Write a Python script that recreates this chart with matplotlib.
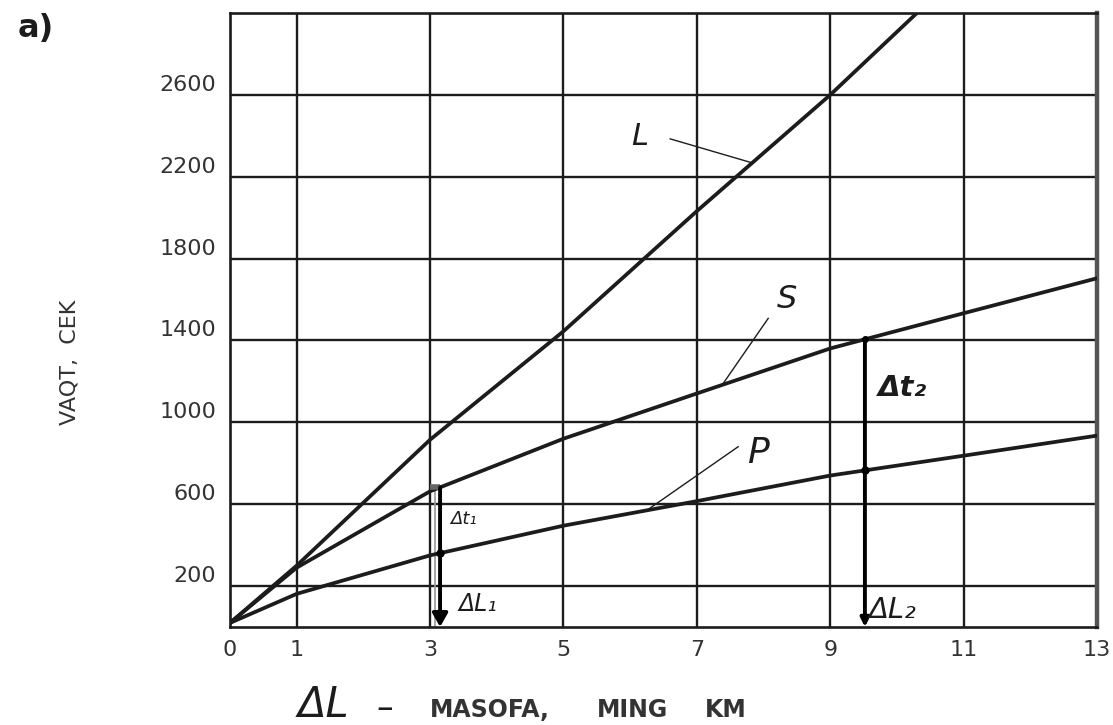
import numpy as np
import matplotlib
matplotlib.use("Agg")
import matplotlib.pyplot as plt

# Travel-time curves: distance (thousand km) vs time (s)
dist = [0, 1, 3, 5, 7, 9, 11, 13]
time_p = [20, 162, 350, 495, 615, 740, 837, 935]
time_s = [20, 290, 663, 920, 1141, 1361, 1533, 1704]
dist_l = [0, 1, 3, 5, 7, 9, 10.3]
time_l = [20, 300, 915, 1445, 2032, 2600, 3000]

x_ticks = [0, 1, 3, 5, 7, 9, 11, 13]
y_ticks = [200, 600, 1000, 1400, 1800, 2200, 2600]
y_tick_labels = ["200", "600", "1000", "1400", "1800", "2200", "2600"]

d1 = 3.15
d2 = 9.52

INK = "#1c1c1c"
GREY_TXT = "#333333"
plt.rcParams["font.family"] = ["DejaVu Sans"]

fig = plt.figure(figsize=(11.13, 7.25), dpi=100)
ax = fig.add_axes([230 / 1113, 1 - 627 / 725, 867 / 1113, 614 / 725])
ax.set_xlim(0, 13)
ax.set_ylim(0, 3000)

# grid
for v in x_ticks[1:-1]:
    ax.axvline(v, color=INK, lw=1.7, zorder=1)
for v in y_ticks:
    ax.axhline(v, color=INK, lw=1.7, zorder=1)
for sp in ax.spines.values():
    sp.set_linewidth(1.9)
    sp.set_color(INK)
ax.spines["right"].set_linewidth(3.2)
ax.spines["right"].set_color("#555555")

# curves
for xs, ys in ((dist, time_p), (dist, time_s), (dist_l, time_l)):
    ax.plot(xs, ys, color=INK, lw=2.7, solid_capstyle="round",
            solid_joinstyle="round", zorder=3)

# x ticks
ax.set_xticks(x_ticks)
ax.set_xticklabels([str(v) for v in x_ticks], fontsize=16, color=GREY_TXT)
ax.set_yticks([])
ax.tick_params(axis="x", length=0, pad=9)

# y tick labels sit just above their grid lines
for v, lab in zip(y_ticks, y_tick_labels):
    ax.annotate(lab, xy=(0, v), xycoords=ax.get_yaxis_transform(),
                xytext=(-14, 10), textcoords="offset pixels",
                ha="right", va="center", fontsize=16, color=GREY_TXT)

# S-P difference arrows
s1 = np.interp(d1, dist, time_s)
s2 = np.interp(d2, dist, time_s)
p1 = np.interp(d1, dist, time_p)
p2 = np.interp(d2, dist, time_p)

ax.plot([3.0, d1], [s1, s1], color="#666666", lw=4, zorder=4, solid_capstyle="butt")
ax.plot([3.07, 3.07], [0, s1], color="#9a9a9a", lw=1.2, zorder=2)
ax.annotate("", xy=(d1, 0), xytext=(d1, s1),
            arrowprops=dict(arrowstyle="-|>,head_length=0.8,head_width=0.45",
                            lw=2.8, color="black", shrinkA=0, shrinkB=0), zorder=5)
ax.annotate("", xy=(d2, 0), xytext=(d2, s2),
            arrowprops=dict(arrowstyle="-|>,head_length=0.5,head_width=0.25",
                            lw=2.8, color="black", shrinkA=0, shrinkB=0), zorder=5)
ax.plot([d1, d2], [p1, p2], "o", color="black", ms=5, zorder=6)
ax.plot([d2], [s2], "o", color="black", ms=4, zorder=6)

ax.text(3.30, 530, "Δt₁", fontsize=13, style="italic", ha="left", va="center",
        color=INK, zorder=7)
ax.text(3.42, 110, "ΔL₁", fontsize=17, style="italic", ha="left", va="center",
        color=INK, zorder=7)
ax.text(9.72, 1170, "Δt₂", fontsize=21, style="italic", fontweight="bold",
        ha="left", va="center", color=INK, zorder=7)
ax.text(9.58, 85, "ΔL₂", fontsize=21, style="italic", ha="left", va="center",
        color=INK, zorder=7)

# curve labels with leader lines
labels = [("L", 22, 6.15, 2395, 6.60, 2385, 7.83, time_l, dist_l),
          ("S", 23, 8.35, 1600, 8.07, 1508, 7.38, time_s, dist),
          ("P", 26, 7.92, 850, 7.62, 881, 6.25, time_p, dist)]
for name, fs, tx, ty, lx, ly, cx, ys, xs in labels:
    ax.text(tx, ty, name, fontsize=fs, style="italic", ha="center", va="center",
            color=INK, zorder=7)
    ax.plot([lx, cx], [ly, np.interp(cx, xs, ys)], color=INK, lw=1.0, zorder=4)

# axis titles
fig.text(298 / 1113, 1 - 705 / 725, "ΔL", fontsize=30, style="italic",
         ha="left", va="center", color=INK)
fig.text(376 / 1113, 1 - 708 / 725, "–", fontsize=24, ha="left", va="center",
         color=INK)
for word, px in (("MASOFA,", 430), ("MING", 597), ("KM", 705)):
    fig.text(px / 1113, 1 - 710 / 725, word, fontsize=17, fontweight="bold",
             ha="left", va="center", color=GREY_TXT)
fig.text(70 / 1113, 1 - 362 / 725, "VAQT,  CEK", fontsize=16, rotation=90,
         ha="center", va="center", color=GREY_TXT)
fig.text(18 / 1113, 1 - 28 / 725, "a)", fontsize=23, fontweight="bold",
         ha="left", va="center", color=INK)

fig.savefig("out.png", dpi=100)
